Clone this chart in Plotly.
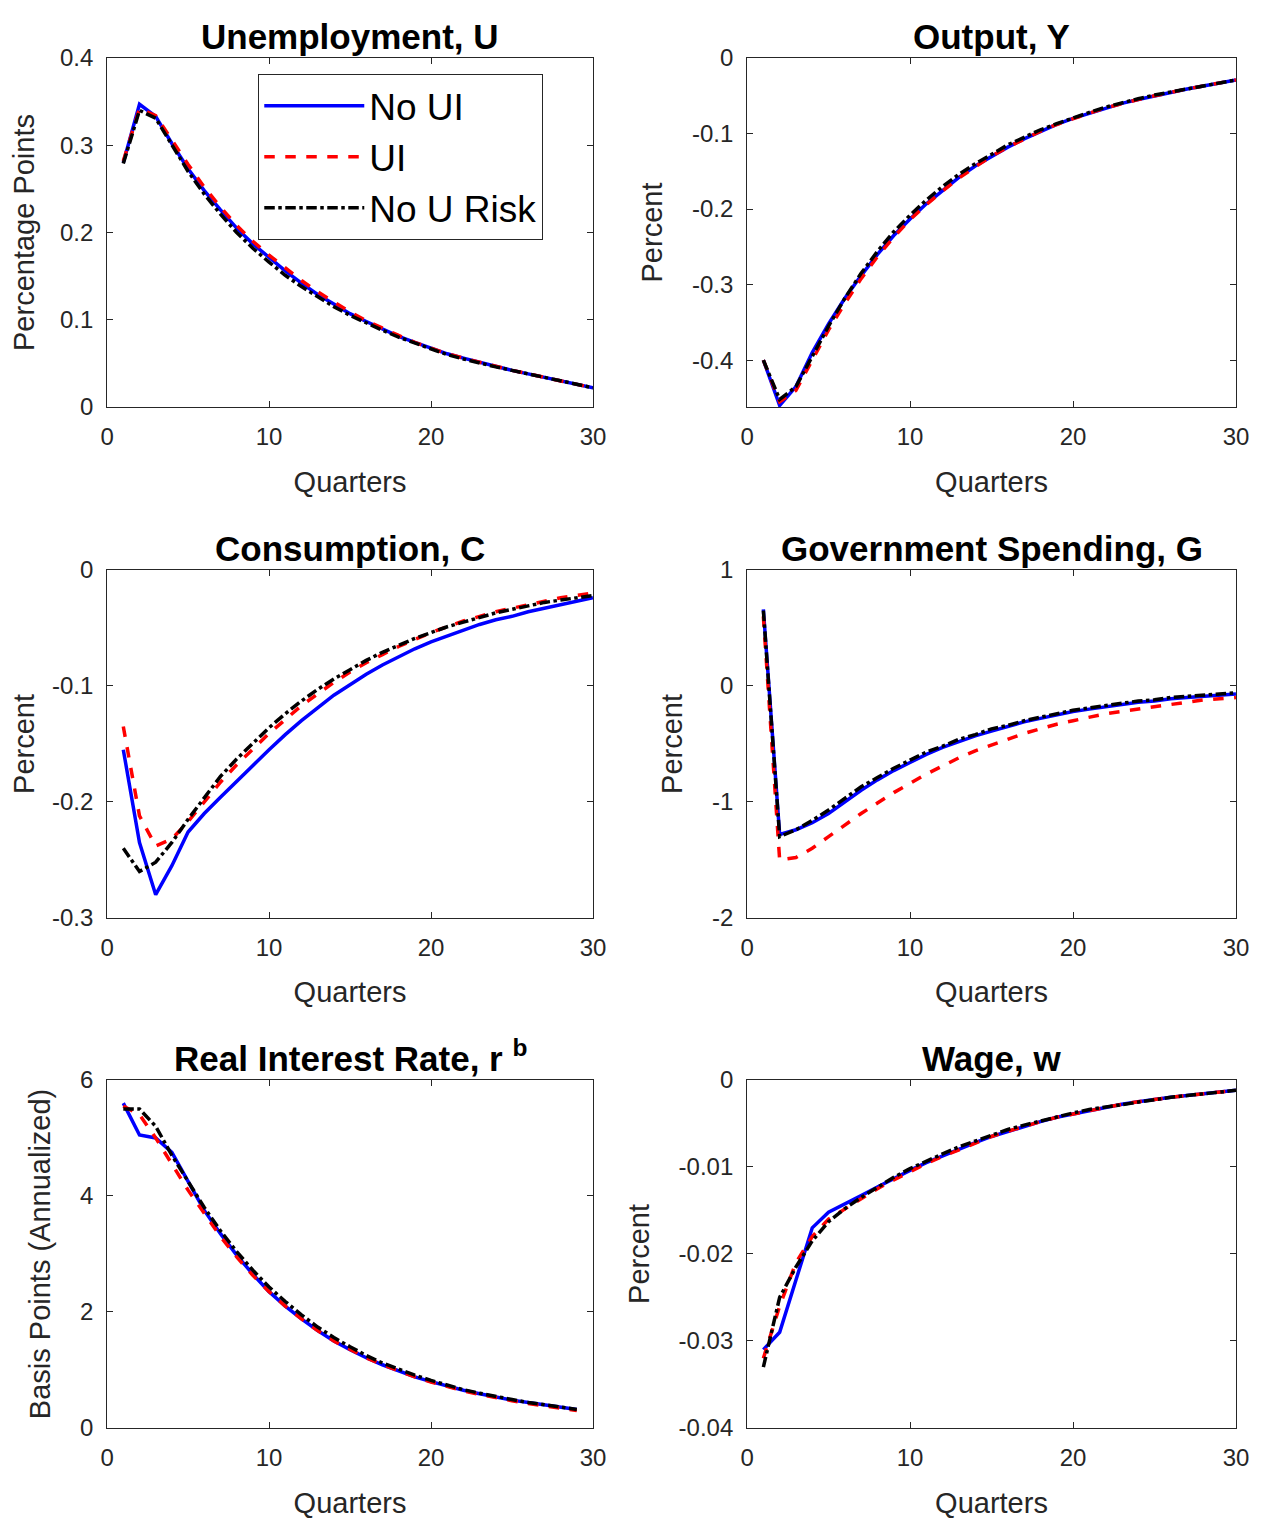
import plotly.graph_objects as go

q = list(range(1, 31))
q_r = list(range(1, 30))

# Unemployment
u_noui = [0.280, 0.347, 0.333, 0.302, 0.273, 0.248, 0.226, 0.205, 0.187, 0.171, 0.156, 0.142, 0.129, 0.118, 0.107, 0.098, 0.089, 0.081, 0.074, 0.067, 0.061, 0.056, 0.051, 0.046, 0.042, 0.038, 0.034, 0.031, 0.027, 0.022]
u_ui   = [0.282, 0.342, 0.334, 0.306, 0.278, 0.252, 0.229, 0.208, 0.190, 0.174, 0.159, 0.145, 0.132, 0.120, 0.109, 0.099, 0.090, 0.082, 0.074, 0.067, 0.061, 0.056, 0.051, 0.046, 0.042, 0.038, 0.034, 0.031, 0.027, 0.022]
u_nour = [0.279, 0.340, 0.331, 0.300, 0.270, 0.244, 0.221, 0.200, 0.182, 0.166, 0.151, 0.138, 0.126, 0.115, 0.105, 0.096, 0.088, 0.080, 0.073, 0.066, 0.060, 0.055, 0.050, 0.046, 0.042, 0.038, 0.034, 0.031, 0.027, 0.022]

# Output
y_noui = [-0.400, -0.460, -0.435, -0.390, -0.352, -0.318, -0.288, -0.260, -0.235, -0.213, -0.193, -0.175, -0.158, -0.143, -0.130, -0.118, -0.107, -0.097, -0.088, -0.080, -0.073, -0.066, -0.060, -0.055, -0.050, -0.045, -0.041, -0.037, -0.033, -0.029]
y_ui   = [-0.400, -0.455, -0.440, -0.400, -0.360, -0.325, -0.292, -0.263, -0.237, -0.214, -0.194, -0.176, -0.159, -0.144, -0.130, -0.118, -0.107, -0.097, -0.088, -0.080, -0.073, -0.066, -0.060, -0.055, -0.050, -0.045, -0.041, -0.037, -0.033, -0.029]
y_nour = [-0.400, -0.452, -0.435, -0.395, -0.355, -0.318, -0.285, -0.256, -0.230, -0.208, -0.188, -0.170, -0.154, -0.140, -0.127, -0.115, -0.105, -0.095, -0.087, -0.079, -0.072, -0.065, -0.059, -0.054, -0.049, -0.045, -0.041, -0.037, -0.033, -0.029]

# Consumption
c_noui = [-0.155, -0.235, -0.280, -0.255, -0.226, -0.210, -0.196, -0.182, -0.168, -0.155, -0.142, -0.130, -0.119, -0.108, -0.099, -0.090, -0.082, -0.075, -0.068, -0.062, -0.057, -0.052, -0.047, -0.043, -0.040, -0.036, -0.033, -0.030, -0.027, -0.024]
c_ui   = [-0.135, -0.212, -0.238, -0.232, -0.217, -0.200, -0.183, -0.168, -0.154, -0.141, -0.129, -0.117, -0.107, -0.097, -0.088, -0.080, -0.073, -0.066, -0.060, -0.054, -0.049, -0.044, -0.040, -0.036, -0.033, -0.030, -0.027, -0.024, -0.022, -0.020]
c_nour = [-0.240, -0.260, -0.252, -0.235, -0.215, -0.196, -0.178, -0.163, -0.149, -0.136, -0.124, -0.113, -0.103, -0.094, -0.086, -0.078, -0.071, -0.065, -0.059, -0.054, -0.049, -0.045, -0.041, -0.037, -0.034, -0.031, -0.028, -0.026, -0.024, -0.022]

# Government spending
g_noui = [0.66, -1.28, -1.24, -1.18, -1.10, -1.00, -0.90, -0.81, -0.73, -0.66, -0.59, -0.53, -0.48, -0.43, -0.39, -0.35, -0.31, -0.28, -0.25, -0.22, -0.20, -0.18, -0.16, -0.14, -0.13, -0.11, -0.10, -0.09, -0.08, -0.07]
g_ui   = [0.60, -1.50, -1.48, -1.40, -1.30, -1.20, -1.10, -1.01, -0.92, -0.84, -0.76, -0.69, -0.62, -0.56, -0.51, -0.46, -0.41, -0.37, -0.33, -0.30, -0.27, -0.24, -0.22, -0.20, -0.18, -0.16, -0.14, -0.12, -0.11, -0.10]
g_nour = [0.65, -1.30, -1.24, -1.16, -1.07, -0.97, -0.87, -0.79, -0.71, -0.64, -0.57, -0.52, -0.46, -0.42, -0.37, -0.34, -0.30, -0.27, -0.24, -0.21, -0.19, -0.17, -0.15, -0.13, -0.12, -0.10, -0.09, -0.08, -0.07, -0.06]

# Real interest rate
r_noui = [5.60, 5.05, 5.00, 4.75, 4.25, 3.75, 3.35, 2.98, 2.65, 2.35, 2.10, 1.88, 1.68, 1.50, 1.35, 1.21, 1.09, 0.98, 0.88, 0.80, 0.72, 0.65, 0.59, 0.53, 0.48, 0.44, 0.40, 0.36, 0.32]
r_ui   = [5.55, 5.40, 5.00, 4.55, 4.10, 3.70, 3.30, 2.95, 2.63, 2.35, 2.10, 1.88, 1.68, 1.50, 1.35, 1.21, 1.09, 0.98, 0.88, 0.79, 0.71, 0.64, 0.58, 0.52, 0.47, 0.42, 0.38, 0.34, 0.30]
r_nour = [5.50, 5.50, 5.20, 4.70, 4.25, 3.80, 3.40, 3.04, 2.72, 2.43, 2.18, 1.95, 1.74, 1.56, 1.40, 1.25, 1.12, 1.01, 0.91, 0.82, 0.74, 0.66, 0.60, 0.54, 0.49, 0.44, 0.40, 0.36, 0.32]

# Wage
w_noui = [-0.0310, -0.0290, -0.0230, -0.0170, -0.0152, -0.0143, -0.0133, -0.0123, -0.0113, -0.0104, -0.0095, -0.0087, -0.0079, -0.0072, -0.0065, -0.0059, -0.0053, -0.0048, -0.0043, -0.0039, -0.0035, -0.0031, -0.0028, -0.0025, -0.0022, -0.0020, -0.0018, -0.0016, -0.0014, -0.0012]
w_ui   = [-0.0320, -0.0260, -0.0210, -0.0180, -0.0160, -0.0148, -0.0136, -0.0125, -0.0115, -0.0105, -0.0096, -0.0088, -0.0080, -0.0072, -0.0065, -0.0059, -0.0053, -0.0048, -0.0043, -0.0039, -0.0035, -0.0031, -0.0028, -0.0025, -0.0022, -0.0020, -0.0018, -0.0016, -0.0014, -0.0012]
w_nour = [-0.0330, -0.0250, -0.0215, -0.0185, -0.0163, -0.0148, -0.0135, -0.0123, -0.0112, -0.0102, -0.0093, -0.0085, -0.0077, -0.0070, -0.0063, -0.0057, -0.0052, -0.0047, -0.0042, -0.0038, -0.0034, -0.0031, -0.0028, -0.0025, -0.0022, -0.0020, -0.0018, -0.0016, -0.0014, -0.0012]

# y tick labels per panel
yt_u = ["0", "0.1", "0.2", "0.3", "0.4"]
yt_y = ["-0.4", "-0.3", "-0.2", "-0.1", "0"]
yt_c = ["-0.3", "-0.2", "-0.1", "0"]
yt_g = ["-2", "-1", "0", "1"]
yt_r = ["0", "2", "4", "6"]
yt_w = ["-0.04", "-0.03", "-0.02", "-0.01", "0"]
xt = ["0", "10", "20", "30"]

names = ["No UI", "UI", "No U Risk"]
styles = [("#0000ff", "solid"), ("#ff0000", "dash"), ("#000000", "dashdot")]

panels = [
    ("Unemployment, U", "Percentage Points", q, [u_noui, u_ui, u_nour], [0, 0.4], yt_u),
    ("Output, Y", "Percent", q, [y_noui, y_ui, y_nour], [-0.462, 0], yt_y),
    ("Consumption, C", "Percent", q, [c_noui, c_ui, c_nour], [-0.3, 0], yt_c),
    ("Government Spending, G", "Percent", q, [g_noui, g_ui, g_nour], [-2, 1], yt_g),
    ("Real Interest Rate, r <sup>b</sup>", "Basis Points (Annualized)", q_r, [r_noui, r_ui, r_nour], [0, 6], yt_r),
    ("Wage, w", "Percent", q, [w_noui, w_ui, w_nour], [-0.04, 0], yt_w),
]

# page has an 8px body margin, so shift domains back by 8px
xdoms = [[0.0784, 0.4628], [0.5847, 0.9715]]
ydoms = [[0.7375, 0.9671], [0.4014, 0.6303], [0.0658, 0.2948]]

fig = go.Figure()
font = "Liberation Sans, Arial, sans-serif"
for i, (title, ylab, xs, series, yr, ytl) in enumerate(panels):
    ax = "" if i == 0 else str(i + 1)
    xd = xdoms[i % 2]
    yd = ydoms[i // 2]
    for k, s in enumerate(series):
        fig.add_trace(go.Scatter(
            x=xs, y=s, mode="lines", name=names[k], showlegend=(i == 0),
            line=dict(color=styles[k][0], dash=styles[k][1], width=3.5),
            xaxis="x" + ax, yaxis="y" + ax))
    axstyle = dict(showgrid=False, zeroline=False, mirror="ticks", showline=True,
                   linecolor="#262626", linewidth=1, ticks="inside", ticklen=6,
                   tickcolor="#262626", tickfont=dict(size=24, color="#262626"),
                   automargin=False, ticklabelstandoff=8)
    fig.layout["xaxis" + ax] = dict(domain=xd, range=[0, 30], tickmode="array",
                                    tickvals=[float(t) for t in xt], ticktext=xt, anchor="y" + ax,
                                    title=dict(text="Quarters", font=dict(size=29, color="#262626"), standoff=22),
                                    **axstyle)
    fig.layout["yaxis" + ax] = dict(domain=yd, range=yr, tickmode="array",
                                    tickvals=[float(t) for t in ytl], ticktext=ytl, anchor="x" + ax,
                                    title=dict(text=ylab, font=dict(size=29, color="#262626"), standoff=20),
                                    **axstyle)
    fig.add_annotation(text="<b>" + title + "</b>", x=(xd[0] + xd[1]) / 2, y=yd[1],
                       xref="paper", yref="paper", xanchor="center", yanchor="bottom",
                       showarrow=False, font=dict(size=35, color="#000000"))

fig.update_layout(
    width=1264, height=1520, margin=dict(l=0, r=0, t=0, b=0, autoexpand=False),
    paper_bgcolor="white", plot_bgcolor="white", font=dict(family=font),
    legend=dict(x=0.198, y=0.9565, xanchor="left", yanchor="top", bordercolor="#262626",
                borderwidth=1, bgcolor="white", font=dict(size=37, color="#000000"),
                itemwidth=100, tracegroupgap=0),
)
fig.write_html("out.html")
